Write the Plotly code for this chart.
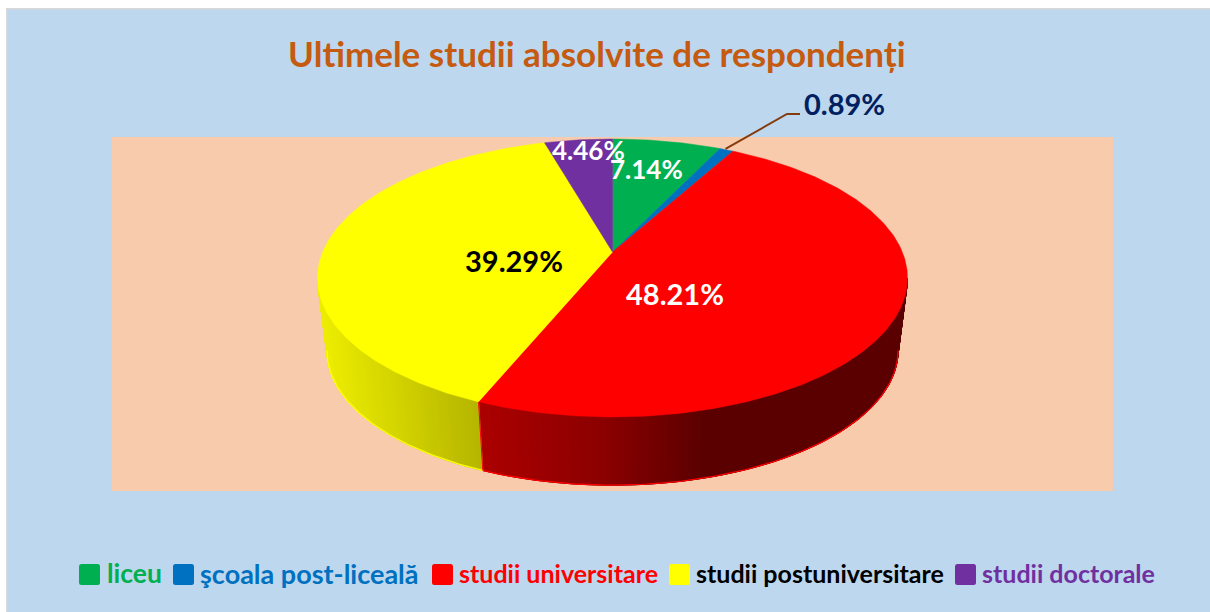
import numpy as np
import plotly.graph_objects as go

TITLE = "Ultimele studii absolvite de respondenți"
categories = ["liceu", "şcoala post-liceală", "studii universitare", "studii postuniversitare", "studii doctorale"]
values = [7.14, 0.89, 48.21, 39.29, 4.46]
colors = ["#00B050", "#0070C0", "#FF0000", "#FFFF00", "#7030A0"]
text_colors = ["#00B050", "#0070C0", "#FF0000", "#000000", "#7030A0"]
label_colors = ["#FFFFFF", "#002060", "#FFFFFF", "#000000", "#FFFFFF"]

FONT = "Lato, Carlito, Calibri, sans-serif"
BLUE, PEACH = "#BDD7EE", "#F8CBAD"

# Projection of the tilted disc onto the page
CX, CY, BX, AY, K = 612.5, 252, 289.8, 134.1, 0.187
BASE_SCALE, DEPTH = 0.968, 73.5
STEP = np.radians(0.75)


def top(theta):
    u, v = np.sin(theta), np.cos(theta)
    w = 1 + K * v
    return CX + BX * u / w, CY - AY * v / w


def bottom(theta):
    x, y = top(theta)
    return CX + (x - CX) * BASE_SCALE, CY + (y - CY) * BASE_SCALE + DEPTH


def wall_colour(i, xm):
    rgb = np.array([int(colors[i][j:j + 2], 16) for j in (1, 3, 5)], float)
    if colors[i] == "#FFFF00":
        f = np.interp(xm, [325, 480], [0.93, 0.71])
    else:
        f = np.interp(xm, [483, 600, 700, 900], [0.67, 0.55, 0.36, 0.36])
    c = (rgb * f).astype(int)
    return f"rgb({c[0]},{c[1]},{c[2]})"


fig = go.Figure()
edges = np.concatenate([[0], np.cumsum(values)]) / sum(values) * 2 * np.pi
# The visible wall runs between the two silhouette tangents of the disc
T_RIGHT = np.pi - np.arcsin(np.sqrt(1 - K ** 2))
T_LEFT = np.pi + np.arcsin(np.sqrt(1 - K ** 2))

for i in range(len(values)):
    start, end = max(edges[i], T_RIGHT), min(edges[i + 1], T_LEFT)
    if end <= start:
        continue
    th = np.append(np.arange(start, end, STEP), end)
    # Each strip overlaps the next one so that no seams show through
    for a, b in zip(th[:-1], th[1:]):
        b2 = min(b + STEP, end)
        xa, ya = top(a)
        xb, yb = top(b2)
        xc, yc = bottom(b2)
        xd, yd = bottom(a)
        col = wall_colour(i, (xa + xb + xc + xd) / 4)
        fig.add_trace(go.Scatter(x=[xa, xb, xc, xd, xa], y=[ya, yb, yc, yd, ya], mode="lines",
                                 fill="toself", fillcolor=col, line=dict(color=col, width=1),
                                 hoverinfo="skip", showlegend=False))
    xr, yr = bottom(th)
    fig.add_trace(go.Scatter(x=xr, y=yr, mode="lines", line=dict(color=colors[i], width=1.3),
                             hoverinfo="skip", showlegend=False))

# Seam between the red and the yellow wall
seam = edges[3]
sx0, sy0 = top(seam)
sx1, sy1 = bottom(seam)
fig.add_trace(go.Scatter(x=[sx0, sx1], y=[sy0, sy1], mode="lines", line=dict(color=colors[2], width=1),
                         hoverinfo="skip", showlegend=False))

# Top face of each slice
for i, name in enumerate(categories):
    th = np.linspace(edges[i], edges[i + 1], max(3, int((edges[i + 1] - edges[i]) * 80)))
    xs, ys = top(th)
    fig.add_trace(go.Scatter(x=np.r_[CX, xs, CX], y=np.r_[CY, ys, CY], mode="lines", fill="toself",
                             fillcolor=colors[i], line=dict(color=colors[i], width=0.5),
                             name=name, hovertemplate=f"{name}: {values[i]:.2f}%<extra></extra>",
                             showlegend=False))

# Leader line for the small slice
mid = (edges[1] + edges[2]) / 2
lx, ly = top(mid)
fig.add_trace(go.Scatter(x=[lx - 1, 787, 800], y=[ly - 1, 114, 114], mode="lines",
                         line=dict(color="#843C0C", width=2), hoverinfo="skip", showlegend=False))

# Value labels
label_pos = [(646, 169), (844, 103), (675, 293), (514, 260), (588, 150)]
label_order = [4, 0, 1, 3, 2]
annotations = []
for i in label_order:
    annotations.append(dict(x=label_pos[i][0], y=label_pos[i][1], xref="x", yref="y",
                            text=f"<b>{values[i]:.2f}%</b>", showarrow=False,
                            font=dict(family=FONT, size=29 if i != 0 and i != 4 else 26, color=label_colors[i])))

# Title
annotations.append(dict(x=597, y=53, xref="x", yref="y", text=f"<b>{TITLE}</b>", showarrow=False,
                        font=dict(family=FONT, size=35, color="#C55A11")))

# Legend: coloured swatch and coloured text per category
swatch_x = [79, 173, 432, 669, 955]
legend_text_x = [105, 198, 457, 694, 980]
legend_sizes = [26.5, 27, 25, 25, 25]
shapes = [
    dict(type="rect", xref="x", yref="y", x0=0, x1=1210, y0=0, y1=612, fillcolor="#FFFFFF", line_width=0, layer="below"),
    dict(type="rect", xref="x", yref="y", x0=6, x1=1210, y0=8, y1=612, fillcolor="#D9D9D9", line_width=0, layer="below"),
    dict(type="rect", xref="x", yref="y", x0=7.5, x1=1210, y0=9.5, y1=612, fillcolor=BLUE, line_width=0, layer="below"),
    dict(type="rect", xref="x", yref="y", x0=112, x1=1113, y0=137, y1=491, fillcolor=PEACH, line_width=0, layer="below"),
]
for i, name in enumerate(categories):
    x0, y0, s, r = swatch_x[i], 564, 21, 2.5
    path = (f"M{x0 + r},{y0} L{x0 + s - r},{y0} Q{x0 + s},{y0} {x0 + s},{y0 + r} "
            f"L{x0 + s},{y0 + s - r} Q{x0 + s},{y0 + s} {x0 + s - r},{y0 + s} "
            f"L{x0 + r},{y0 + s} Q{x0},{y0 + s} {x0},{y0 + s - r} "
            f"L{x0},{y0 + r} Q{x0},{y0} {x0 + r},{y0} Z")
    shapes.append(dict(type="path", path=path, xref="x", yref="y", fillcolor=colors[i], line_width=0))
    annotations.append(dict(x=legend_text_x[i], y=573, xref="x", yref="y", xanchor="left",
                            text=f"<b>{name}</b>", showarrow=False,
                            font=dict(family=FONT, size=legend_sizes[i], color=text_colors[i])))

fig.update_layout(
    width=1210, height=612, margin=dict(l=0, r=0, t=0, b=0),
    paper_bgcolor="#FFFFFF", plot_bgcolor="rgba(0,0,0,0)", showlegend=False,
    xaxis=dict(range=[0, 1210], visible=False, fixedrange=True),
    yaxis=dict(range=[612, 0], visible=False, fixedrange=True),
    shapes=shapes, annotations=annotations,
)
fig.write_html("out.html", config=dict(displayModeBar=False),
               post_script="document.body.style.margin='0';document.body.style.overflow='hidden';")
